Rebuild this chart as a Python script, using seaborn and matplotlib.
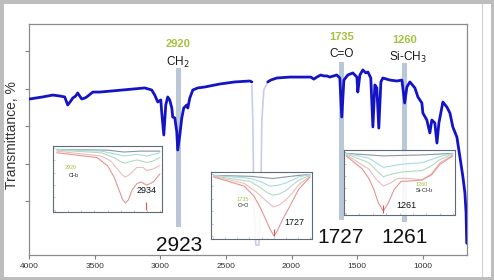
import matplotlib
matplotlib.use("Agg")
import matplotlib.pyplot as plt
import seaborn as sns
import pandas as pd
from matplotlib.patches import Rectangle
from matplotlib.lines import Line2D
from matplotlib.ticker import MultipleLocator

sns.set_theme(style="ticks")
plt.rcParams['font.family'] = ['Liberation Sans', 'DejaVu Sans']

# ---------------- main FTIR spectrum ----------------
wavenumber = [3995, 3896, 3819, 3766, 3728, 3705, 3682, 3667, 3644, 3629, 3614, 3598, 3575, 3560,
              3514, 3461, 3210, 3118, 3065, 3042, 3019, 2996, 2989, 2973, 2958, 2943, 2928, 2912,
              2905, 2889, 2874, 2867, 2851, 2836, 2821, 2798, 2790, 2775, 2752, 2714, 2661, 2546,
              2432, 2318, 2302]
transmittance = [74.4, 75.5, 76.5, 76.0, 75.5, 71.2, 73.3, 74.9, 76.0, 77.6, 76.0, 74.4, 74.9, 75.5,
                 78.1, 78.1, 79.7, 80.3, 79.2, 76.5, 72.8, 73.9, 67.5, 55.2, 71.2, 75.5, 73.9, 69.6,
                 64.8, 64.3, 56.8, 47.2, 55.2, 64.3, 69.6, 71.2, 69.6, 74.9, 79.2, 80.3, 80.8, 82.4,
                 83.5, 84.0, 83.5]

wavenumber_2 = [2181, 2158, 2112, 2013, 1853, 1830, 1807, 1777, 1754, 1731, 1708, 1655, 1632, 1617,
                1601, 1571, 1533, 1502, 1495, 1479, 1457, 1434, 1418, 1396, 1380, 1365, 1350, 1335,
                1319, 1304, 1251, 1197, 1159, 1138, 1121, 1098, 1060, 1037, 1007, 999, 969, 946,
                931, 908, 892, 877, 854, 847, 816, 793, 771, 740, 717, 694, 679, 670, 665]
transmittance_2 = [83.5, 84.5, 85.6, 86.1, 86.1, 85.0, 86.1, 87.2, 86.7, 86.7, 86.1, 87.2, 85.6, 64.8,
                   84.5, 87.2, 88.3, 86.1, 78.1, 87.2, 89.9, 88.3, 88.8, 85.6, 59.5, 81.9, 80.3, 58.9,
                   83.5, 85.6, 84.5, 84.0, 84.5, 72.3, 80.8, 83.5, 80.3, 75.5, 72.3, 66.9, 63.2, 56.3,
                   63.2, 61.6, 50.9, 61.6, 70.1, 72.8, 70.1, 66.9, 59.5, 54.1, 43.5, 32.8, 24.3, 13.6, -2.5]

# faded (CO2) region
co2_wavenumber = [2302, 2295, 2287, 2272, 2249, 2234, 2226, 2211, 2181]
co2_transmittance = [81.9, 63.2, 20.5, -3.5, -3.5, 20.5, 63.2, 79.2, 83.5]

# highlighted bands
band_wavenumber = [2863, 1619, 1138]
band_top = [90.9, 94.1, 93.6]
band_bottom = [6.1, 9.9, 8.8]
band_ref = ["2920", "1735", "1260"]
band_group = ["CH$_2$", "C=O", "Si-CH$_3$"]
band_found = ["2923", "1727", "1261"]

# ---------------- inset spectra ----------------
inset_colors = ['#8a96a3', '#a6dcdf', '#b3dbbf', '#efbcbc', '#e69494']
inset1 = [
    ([1.6, 50, 65.6, 81.3, 100], [97.4, 96.3, 93.2, 94.7, 94.7]),
    ([1.6, 43.8, 56.3, 65.6, 78.1, 87.5, 100], [97.4, 94.7, 90.5, 86.8, 89.5, 86.8, 92.1]),
    ([1.6, 43.8, 56.3, 62.5, 67.2, 72, 78.1, 87.5, 93.8, 100],
     [96.3, 92.1, 84.2, 77.5, 75.3, 78.0, 80.5, 76.3, 79.0, 84.2]),
    ([1.6, 43.8, 53, 59.4, 64, 67.2, 71.9, 78.1, 84, 87.5, 93.8, 100],
     [94.7, 86.8, 78.9, 65.8, 56, 52.6, 57.9, 68.4, 68.0, 63.2, 66.0, 71.1]),
    ([1.6, 40, 50, 56.3, 61, 64.5, 67.2, 70, 73.5, 78.1, 82, 87.5, 93.8, 100],
     [92.1, 84.2, 71.1, 52.6, 31.6, 15.8, 10.5, 15.8, 31.6, 42.1, 44.7, 39.5, 44.7, 57.9]),
]
inset2 = [
    ([0.7, 38.7, 61.9, 88.4, 100], [97.6, 96.1, 92.7, 97.6, 99]),
    ([0.7, 38.7, 50, 58.6, 66, 75.2, 88.4, 100], [97.6, 92.7, 87, 80.5, 81.5, 85.4, 95.1, 99]),
    ([0.7, 38.7, 48.7, 55.3, 61.9, 68.5, 75.2, 88.4, 100], [96.6, 87.8, 78, 70.7, 65.9, 68, 73.2, 90.2, 97.6]),
    ([0.7, 32.1, 44, 55.3, 61.9, 68.5, 75.2, 82, 88.4, 100], [96.1, 85, 72, 56.1, 47.3, 50.5, 58.5, 70, 82.9, 96.1]),
    ([0.7, 32.1, 42, 48.7, 53, 58.6, 62.6, 66, 71, 78.5, 88.4, 100],
     [95.1, 80.5, 65, 46.3, 32, 12.2, 1.5, 8, 25, 46.3, 75.6, 95.1]),
]
inset3 = [
    ([0, 34.8, 71.2, 100], [97.4, 93.3, 94.9, 97.4]),
    ([0, 21.2, 34.8, 51.5, 71.2, 87.9, 100], [97.4, 89.7, 74.4, 79.5, 82.1, 92.3, 97.4]),
    ([0, 21.2, 28, 34.8, 42, 51.5, 62, 71.2, 80, 87.9, 100], [96.4, 82.1, 70, 59, 63, 66.7, 68, 69.2, 77, 87.2, 96.4]),
    ([0, 21.2, 28, 34.8, 42, 48.5, 60, 71.2, 80, 87.9, 100], [94.9, 71.8, 55, 43.6, 49, 56.4, 56, 53.8, 64, 82.1, 94.9]),
    ([0, 15, 21.2, 26, 30.3, 34.8, 39.4, 45, 51.5, 60, 71.2, 80, 87.9, 100],
     [93.3, 72, 56.4, 38, 15.4, 2.6, 15.4, 38, 51.3, 52, 53.8, 62, 79.5, 93.3]),
]
inset_marker = [86.9, 62.6, 34.8]
inset_ref = ["2920", "1735", "1260"]
inset_group = ["CH$_2$", "C=O", "Si-CH$_3$"]
inset_found = ["2934", "1727", "1261"]

# ---------------- figure ----------------
fig = plt.figure(figsize=(4.94, 2.80), dpi=100)
fig.patch.set_facecolor('white')
ax = fig.add_axes([29 / 494, 1 - 255 / 280, 438 / 494, 231 / 280])

green = '#a3c23d'
bar_color = '#b9c7d6'

ax.bar(band_wavenumber, [t - b for t, b in zip(band_top, band_bottom)], bottom=band_bottom,
       width=38, color=bar_color, edgecolor='none', zorder=1)

sns.lineplot(x=co2_wavenumber, y=co2_transmittance, sort=False, estimator=None, ax=ax,
             color='#c9cbec', lw=1.2, zorder=2)
sns.lineplot(x=wavenumber, y=transmittance, sort=False, estimator=None, ax=ax,
             color='#1414c4', lw=2.0, zorder=3)
sns.lineplot(x=wavenumber_2, y=transmittance_2, sort=False, estimator=None, ax=ax,
             color='#1414c4', lw=2.0, zorder=3)

ax.set_xlim(4000, 663)
ax.set_ylim(-8.8, 114.4)
ax.set_xticks([4000, 3500, 3000, 2500, 2000, 1500, 1000])
ax.set_xticklabels(["4000", "3500", "3000", "2500", "2000", "1500", "1000"])
ax.set_yticks([20, 40, 60, 80, 100])
ax.set_yticklabels([])
ax.tick_params(axis='both', direction='out', length=3, width=0.8, colors='#7f7f7f',
               labelsize=6, labelcolor='#333333', pad=3)
for s in ax.spines.values():
    s.set_color('#8c8c8c')
    s.set_linewidth(0.9)
ax.set_xlabel("")
ax.set_ylabel("Transmittance, %", fontsize=10, color='#333333')
ax.yaxis.set_label_coords(-0.022, 0.52)

ref_y = [103.9, 107.5, 105.9]
grp_y = [94.1, 98.4, 96.3]
grp_x = [2863, 1619, 1110]
found_x = [2858, 1625, 1136]
found_y = [-3.5, 0.3, 0.3]
for i in range(3):
    ax.text(band_wavenumber[i], ref_y[i], band_ref[i], color=green, fontsize=8, fontweight='bold',
            ha='center', va='center', zorder=5)
    ax.text(grp_x[i], grp_y[i], band_group[i], color='#1a1a1a', fontsize=8.5,
            ha='center', va='center', zorder=5)
    ax.text(found_x[i], found_y[i], band_found[i], color='#111111', fontsize=15,
            ha='center', va='center', zorder=5)

# ---------------- insets ----------------
inset_rects = [
    [53 / 494, 1 - 212 / 280, 109 / 494, 66 / 280],
    [211 / 494, 1 - 239 / 280, 101 / 494, 67 / 280],
    [344 / 494, 1 - 215 / 280, 111 / 494, 65 / 280],
]
inset_data = [inset1, inset2, inset3]
ref_pos = [(15, 68), (31, 58.5), (71, 46)]
grp_pos = [(18, 55), (31, 49), (73, 36)]
found_pos = [(87, 30.5), (84, 22), (56, 12)]

for k in range(3):
    ia = fig.add_axes(inset_rects[k])
    ia.set_facecolor((1, 1, 1, 0.88))
    for (xs, ys), c in zip(inset_data[k], inset_colors):
        sns.lineplot(x=xs, y=ys, sort=False, estimator=None, ax=ia, color=c, lw=0.8)
    ia.vlines(inset_marker[k], 0, 12, color='#e05555', lw=0.8)
    ia.set_xlim(-2, 102)
    ia.set_ylim(-4, 103)
    ia.xaxis.set_major_locator(MultipleLocator(12.5))
    ia.yaxis.set_major_locator(MultipleLocator(20))
    ia.tick_params(axis='both', direction='in', length=1.5, width=0.4, colors='#9a9a9a',
                   labelbottom=False, labelleft=False)
    for s in ia.spines.values():
        s.set_color('#5f6b78')
        s.set_linewidth(0.8)
    ia.set_xlabel("")
    ia.set_ylabel("")
    ia.text(*ref_pos[k], inset_ref[k], color=green, fontsize=4, ha='center', va='center')
    ia.text(*grp_pos[k], inset_group[k], color='#222222', fontsize=4, ha='center', va='center')
    ia.text(*found_pos[k], inset_found[k], color='#111111', fontsize=6.5, ha='center', va='center')

# ---------------- frame ----------------
fig.patches.append(Rectangle((0, 0), 1, 1, transform=fig.transFigure, fill=False,
                             edgecolor='#bdbdbd', lw=5, zorder=10))
fig.add_artist(Line2D([482 / 494, 482 / 494], [0, 1], transform=fig.transFigure,
                      color='#cfcfcf', lw=0.8))

fig.savefig("out.png", dpi=100, facecolor='white')
